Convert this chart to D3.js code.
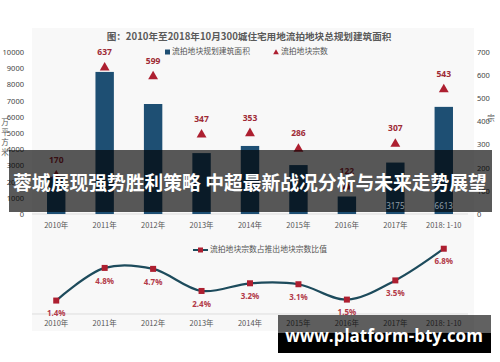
<!DOCTYPE html>
<html>
<head>
<meta charset="utf-8">
<script src="https://cdn.jsdelivr.net/npm/d3@7"></script>
<style>
  body { margin: 0; background: #ffffff; }
  svg { display: block; font-family: "Noto Sans CJK SC", "Noto Sans", sans-serif; }
</style>
</head>
<body>
<script>
// Data
var years = ["2010年", "2011年", "2012年", "2013年", "2014年", "2015年", "2016年", "2017年", "2018: 1-10"];
var area_values = [2300, 8770, 6790, 3760, 4200, 3020, 1080, 3175, 6613];   // 万平方米
var area_labels = ["", "", "", "", "", "", "", "3175", "6613"];
var count_values = [170, 637, 599, 347, 353, 286, 122, 307, 543];           // 宗
var ratio_values = [1.4, 4.8, 4.7, 2.4, 3.2, 3.1, 1.5, 3.5, 6.8];            // %
var left_ticks = [0, 1000, 2000, 3000, 4000, 5000, 6000, 7000, 8000, 9000, 10000];
var right_ticks = [0, 100, 200, 300, 400, 500, 600, 700];

var width = 500, height = 362;
var bar_color = "#1e4f73";
var red = "#ad1f30";
var text_gray = "#555555";

var svg = d3.select("body").append("svg").attr("width", width).attr("height", height);

// light panel behind the chart image
svg.append("rect").attr("x", 32).attr("y", 28).attr("width", 442).attr("height", 303).attr("fill", "#f8f8f8");

// Scales
var x = d3.scaleBand().domain(years).range([32, 468]).paddingInner(0.62).paddingOuter(0.31);
var xp = d3.scalePoint().domain(years).range([32, 468]).padding(0.5);
var yL = d3.scaleLinear().domain([0, 10000]).range([214, 52]);
var yR = d3.scaleLinear().domain([0, 700]).range([214, 52]);
var y2 = d3.scaleLinear().domain([0, 7]).range([314, 314 - 7 * 9.6]);

// Title
svg.append("text").attr("x", 249).attr("y", 37).attr("text-anchor", "middle")
   .attr("dominant-baseline", "middle").attr("font-size", 9.6).attr("font-weight", "bold")
   .attr("fill", "#5a5a5a").text("图：2010年至2018年10月300城住宅用地流拍地块总规划建筑面积");

// Legend top
svg.append("rect").attr("x", 165).attr("y", 49.5).attr("width", 5).attr("height", 5).attr("fill", bar_color);
svg.append("text").attr("x", 172).attr("y", 52).attr("dominant-baseline", "middle")
   .attr("font-size", 7.8).attr("fill", text_gray).text("流拍地块规划建筑面积");
svg.append("path").attr("d", d3.symbol(d3.symbolTriangle, 14)()).attr("transform", "translate(276,52.5)").attr("fill", red);
svg.append("text").attr("x", 281).attr("y", 52).attr("dominant-baseline", "middle")
   .attr("font-size", 7.8).attr("fill", text_gray).text("流拍地块宗数");

// Axes (no domain lines, just labels)
var leftAxis = svg.append("g").attr("transform", "translate(27,0)")
   .call(d3.axisLeft(yL).tickValues(left_ticks).tickFormat(d3.format("d")).tickSize(0).tickPadding(3));
var rightAxis = svg.append("g").attr("transform", "translate(474,0)")
   .call(d3.axisRight(yR).tickValues(right_ticks).tickFormat(d3.format("d")).tickSize(0).tickPadding(3));
[leftAxis, rightAxis].forEach(function(a) {
  a.select(".domain").remove();
  a.selectAll("text").attr("font-size", 7.5).attr("fill", "#444").attr("font-family", "\"Noto Sans\", sans-serif");
});

// axis unit labels
["万", "平", "方", "米"].forEach(function(c, i) {
  svg.append("text").attr("x", 5).attr("y", 123 + i * 10).attr("text-anchor", "middle")
     .attr("dominant-baseline", "middle").attr("font-size", 7.5).attr("fill", text_gray).text(c);
});
svg.append("text").attr("x", 491).attr("y", 119).attr("text-anchor", "middle")
   .attr("dominant-baseline", "middle").attr("font-size", 7.5).attr("fill", text_gray).text("宗");

// baseline
svg.append("line").attr("x1", 32).attr("x2", 468).attr("y1", yL(0)).attr("y2", yL(0)).attr("stroke", "#dddddd");

// Bars
svg.selectAll("rect.bar").data(area_values).enter().append("rect").attr("class", "bar")
   .attr("x", function(d, i) { return x(years[i]); })
   .attr("width", x.bandwidth())
   .attr("y", function(d) { return yL(d); })
   .attr("height", function(d) { return yL(0) - yL(d); })
   .attr("fill", bar_color);

// Triangles
svg.selectAll("path.tri").data(count_values).enter().append("path").attr("class", "tri")
   .attr("d", d3.symbol(d3.symbolTriangle, 42)())
   .attr("transform", function(d, i) { return "translate(" + xp(years[i]) + "," + (yR(d) + 1) + ")"; })
   .attr("fill", red);
svg.selectAll("text.cnt").data(count_values).enter().append("text").attr("class", "cnt")
   .attr("x", function(d, i) { return xp(years[i]); })
   .attr("y", function(d) { return yR(d) - 14; })
   .attr("text-anchor", "middle").attr("dominant-baseline", "middle")
   .attr("font-size", 8.5).attr("font-weight", "bold").attr("fill", "#9e2a35")
   .attr("font-family", "\"Noto Sans\", sans-serif")
   .text(function(d) { return d; });

// Top x labels
svg.selectAll("text.xl1").data(years).enter().append("text").attr("class", "xl1")
   .attr("x", function(d) { return xp(d); }).attr("y", 226)
   .attr("text-anchor", "middle").attr("dominant-baseline", "middle")
   .attr("font-size", 7.5).attr("fill", text_gray).text(function(d) { return d; });

// Bottom chart
svg.append("line").attr("x1", 32).attr("x2", 468).attr("y1", y2(0)).attr("y2", y2(0)).attr("stroke", "#dddddd");

svg.append("line").attr("x1", 193).attr("x2", 208).attr("y1", 250).attr("y2", 250).attr("stroke", "#1d4b5c").attr("stroke-width", 2);
svg.append("rect").attr("x", 198).attr("y", 247.5).attr("width", 5).attr("height", 5).attr("fill", red);
svg.append("text").attr("x", 210).attr("y", 250).attr("dominant-baseline", "middle")
   .attr("font-size", 7.8).attr("fill", text_gray).text("流拍地块宗数占推出地块宗数比值");

var line = d3.line()
   .x(function(d, i) { return xp(years[i]); })
   .y(function(d) { return y2(d); })
   .curve(d3.curveCatmullRom.alpha(0.5));

svg.append("path").datum(ratio_values).attr("d", line)
   .attr("fill", "none").attr("stroke", "#1d4b5c").attr("stroke-width", 2.2);

svg.selectAll("rect.pt").data(ratio_values).enter().append("rect").attr("class", "pt")
   .attr("x", function(d, i) { return xp(years[i]) - 3; })
   .attr("y", function(d) { return y2(d) - 3; })
   .attr("width", 6).attr("height", 6).attr("fill", red);

svg.selectAll("text.pct").data(ratio_values).enter().append("text").attr("class", "pct")
   .attr("x", function(d, i) { return xp(years[i]); })
   .attr("y", function(d) { return y2(d) + 13.5; })
   .attr("text-anchor", "middle").attr("dominant-baseline", "middle")
   .attr("font-size", 8).attr("font-weight", "bold").attr("fill", "#b23a48")
   .attr("font-family", "\"Noto Sans\", sans-serif")
   .text(function(d) { return d.toFixed(1) + "%"; });

svg.selectAll("text.xl2").data(years).enter().append("text").attr("class", "xl2")
   .attr("x", function(d) { return xp(d); }).attr("y", 324)
   .attr("text-anchor", "middle").attr("dominant-baseline", "middle")
   .attr("font-size", 7.5).attr("fill", text_gray).text(function(d) { return d; });

// Overlay banner across the middle
svg.append("rect").attr("x", 9).attr("y", 150).attr("width", 483).attr("height", 62)
   .attr("fill", "#000").attr("fill-opacity", 0.65);

// bar value labels seen through the banner
svg.selectAll("text.bv").data(area_labels).enter().append("text").attr("class", "bv")
   .attr("x", function(d, i) { return xp(years[i]); }).attr("y", 207)
   .attr("text-anchor", "middle").attr("dominant-baseline", "middle")
   .attr("font-size", 8).attr("fill", "#8e9ca6")
   .attr("font-family", "\"Noto Sans\", sans-serif")
   .text(function(d) { return d; });

svg.append("text").attr("x", 250).attr("y", 185).attr("text-anchor", "middle")
   .attr("dominant-baseline", "middle").attr("font-size", 18.8).attr("font-weight", "bold")
   .attr("fill", "#ffffff").text("蓉城展现强势胜利策略 中超最新战况分析与未来走势展望");

// Watermark box at the bottom
svg.append("rect").attr("x", 278).attr("y", 315).attr("width", 213).attr("height", 18)
   .attr("fill", "#000").attr("fill-opacity", 0.62);
svg.append("rect").attr("x", 278).attr("y", 333).attr("width", 213).attr("height", 20).attr("fill", "#000");
svg.append("text").attr("x", 384).attr("y", 337).attr("text-anchor", "middle")
   .attr("dominant-baseline", "middle").attr("font-size", 17).attr("font-weight", "bold")
   .attr("font-family", "\"Open Sans\", sans-serif")
   .attr("fill", "#ffffff").text("www.platform-bty.com");
</script>
</body>
</html>
